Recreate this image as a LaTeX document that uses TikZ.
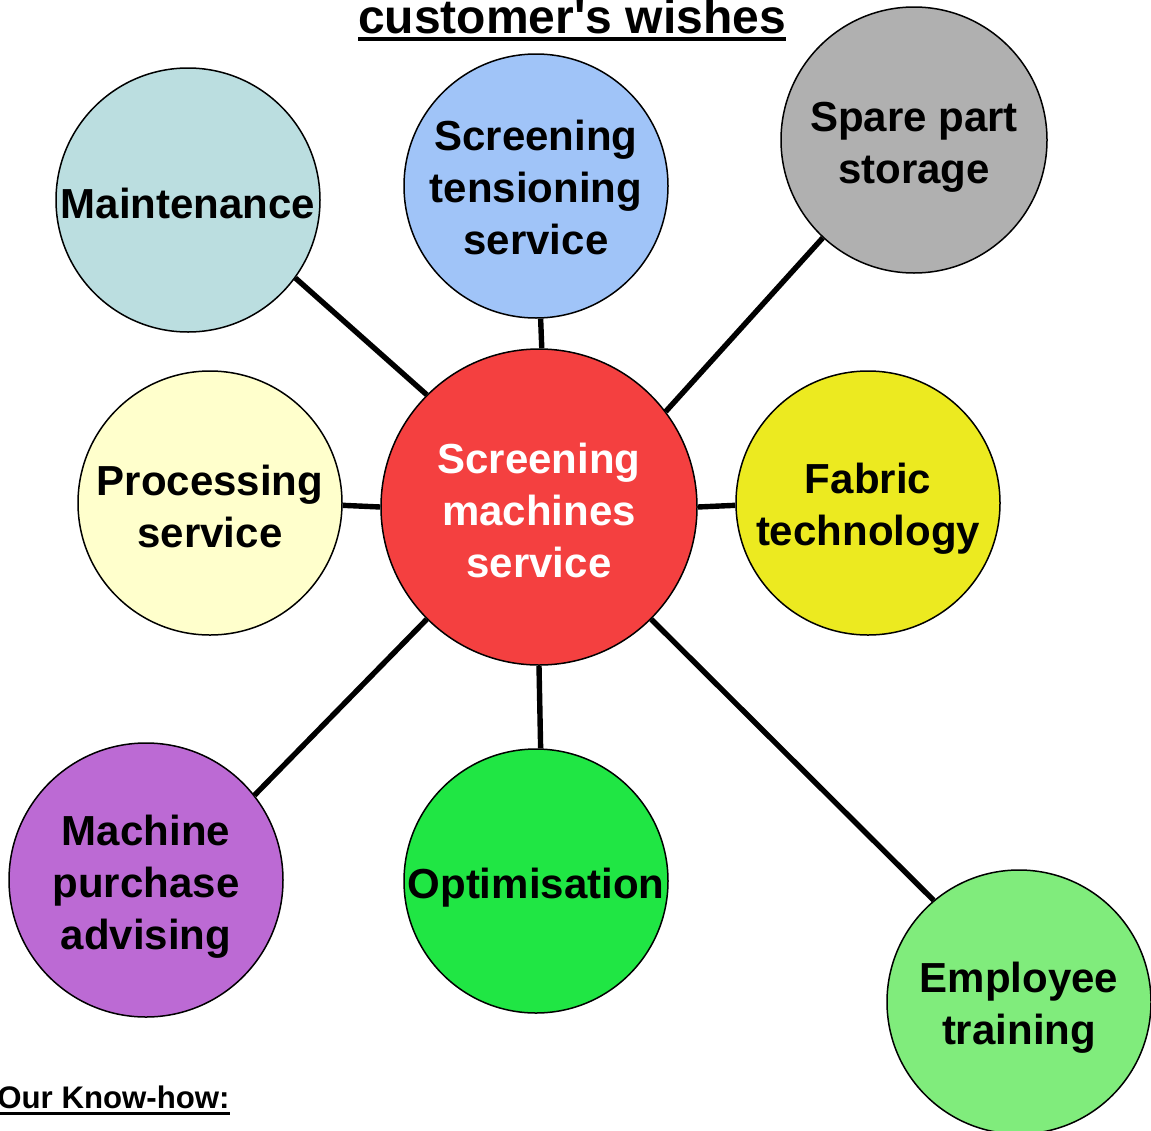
\documentclass[tikz,border=0pt]{standalone}
\usepackage{fontspec}
\setmainfont{Liberation Sans}
\definecolor{cMaint}{RGB}{187,222,224}
\definecolor{cTens}{RGB}{160,196,248}
\definecolor{cSpare}{RGB}{176,176,176}
\definecolor{cProc}{RGB}{255,255,204}
\definecolor{cCent}{RGB}{244,64,64}
\definecolor{cFab}{RGB}{236,234,32}
\definecolor{cMach}{RGB}{188,106,212}
\definecolor{cOpt}{RGB}{32,230,68}
\definecolor{cEmp}{RGB}{128,236,124}
\newcommand{\myuline}[3]{\setbox0\hbox{#3}\rlap{\raisebox{-#1}{\rule{\wd0}{#2}}}\box0}
\begin{document}
\begin{tikzpicture}[x=0.5pt,y=-0.5pt,
  bubble/.style={circle,draw=black,line width=0.75pt,inner sep=0pt,minimum size=132pt},
  btext/.style={inner sep=0pt,align=center,font=\fontsize{21}{26}\selectfont\bfseries},
  link/.style={line width=2.7pt,black}]
\useasboundingbox (0,0) rectangle (1151,1130);
\node[anchor=base,font=\fontsize{24}{28}\selectfont\bfseries] (title) at (572,33) {\myuline{4.15pt}{2pt}{customer\textquotesingle s wishes}};
\node[anchor=base west,inner sep=0pt,font=\fontsize{15.6}{18}\selectfont\bfseries] (know) at (-3,1108) {\myuline{3.6pt}{1.7pt}{Our Know-how:}};
\node[bubble,fill=cCent,minimum size=158pt] (cent) at (539,507) {};
\node[bubble,fill=cMaint] (maint) at (188,200) {};
\node[bubble,fill=cTens] (tens) at (536,186) {};
\node[bubble,fill=cSpare,minimum size=133pt] (spare) at (914,140) {};
\node[bubble,fill=cProc] (proc) at (210,503) {};
\node[bubble,fill=cFab] (fab) at (868,503) {};
\node[bubble,fill=cMach,minimum size=137pt] (mach) at (146,880) {};
\node[bubble,fill=cOpt] (opt) at (536,881) {};
\node[bubble,fill=cEmp] (emp) at (1019,1002) {};
\node[btext,text=white] (centT) at (539,510) {Screening\\machines\\service};
\node[btext] (maintT) at (188,203) {Maintenance};
\node[btext] (tensT) at (536,187) {Screening\\tensioning\\service};
\node[btext] (spareT) at (914,147) {Spare part\\storage};
\node[btext] (procT) at (210,506) {Processing\\service};
\node[btext] (fabT) at (868,509) {Fabric\\technology};
\node[btext] (machT) at (146,887) {Machine\\purchase\\advising};
\node[btext] (optT) at (536,888) {Optimisation};
\node[btext] (empT) at (1019,1008) {Employee\\training};
\draw[link] (maint.-36.3) -- (cent.135);
\draw[link] (tens.-88.3) -- (cent.89.6);
\draw[link] (spare.227.4) -- (cent.37.4);
\draw[link] (proc.-1.7) -- (cent.180);
\draw[link] (fab.181.7) -- (cent.0);
\draw[link] (mach.38.8) -- (cent.225.5);
\draw[link] (opt.88.7) -- (cent.-90);
\draw[link] (emp.130.5) -- (cent.-45);
\end{tikzpicture}
\end{document}
